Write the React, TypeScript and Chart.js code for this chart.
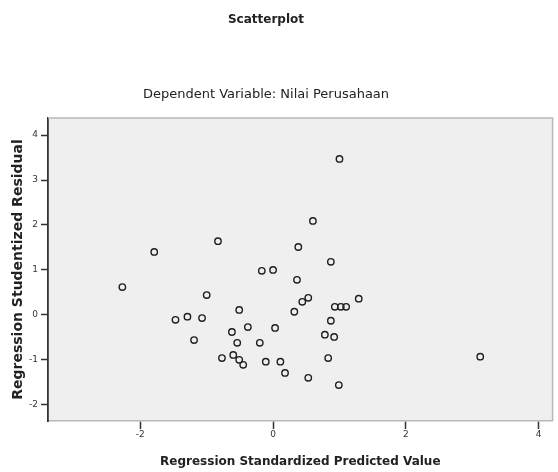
import { useEffect, useRef } from "react";
import { Chart, registerables } from "chart.js";

Chart.register(...registerables);

const chartTitle = "Scatterplot";
const chartSubtitle = "Dependent Variable: Nilai Perusahaan";
const xAxisTitle = "Regression Standardized Predicted Value";
const yAxisTitle = "Regression Studentized Residual";

const xTicks = [-2, 0, 2, 4];
const yTicks = [-2, -1, 0, 1, 2, 3, 4];

const predicted = [
  -2.27, -1.79, -0.83, 1.0, 0.6, 0.38, 0.87, -0.17, 0.0, 0.36,
  -1.0, -1.47, -1.29, -1.07, -0.51, -1.19, -0.38, 0.03, -0.62, -0.54,
  -0.2, -0.77, -0.6, -0.51, -0.45, -0.11, 0.11, 0.18, 0.32, 0.44,
  0.53, 0.93, 1.02, 1.1, 1.29, 0.87, 0.78, 0.92, 0.83, 0.53,
  0.99, 3.12,
];
const residual = [
  0.62, 1.4, 1.64, 3.47, 2.09, 1.51, 1.18, 0.98, 1.0, 0.78,
  0.44, -0.11, -0.04, -0.07, 0.11, -0.56, -0.27, -0.29, -0.38, -0.62,
  -0.62, -0.96, -0.89, -1.0, -1.11, -1.04, -1.04, -1.29, 0.07, 0.29,
  0.38, 0.18, 0.18, 0.18, 0.36, -0.13, -0.44, -0.49, -0.96, -1.4,
  -1.56, -0.93,
];

const FONT = "'DejaVu Sans', Verdana, sans-serif";

const framePlugin = {
  id: "frame",
  beforeDraw(chart: any) {
    const { ctx, chartArea } = chart;
    ctx.save();
    ctx.fillStyle = "#ffffff";
    ctx.fillRect(0, 0, chart.width, chart.height);
    ctx.fillStyle = "#efefef";
    ctx.fillRect(chartArea.left, chartArea.top, chartArea.right - chartArea.left, chartArea.bottom - chartArea.top);
    ctx.restore();
  },
  afterDraw(chart: any) {
    const { ctx, chartArea } = chart;
    ctx.save();
    ctx.strokeStyle = "#b8b8b8";
    ctx.lineWidth = 1.5;
    ctx.beginPath();
    ctx.moveTo(chartArea.left, chartArea.top);
    ctx.lineTo(chartArea.right, chartArea.top);
    ctx.lineTo(chartArea.right, chartArea.bottom);
    ctx.stroke();
    ctx.fillStyle = "#222";
    ctx.textAlign = "center";
    ctx.textBaseline = "middle";
    ctx.font = `bold 12px ${FONT}`;
    ctx.fillText(chartTitle, 266, 20);
    ctx.font = `13px ${FONT}`;
    ctx.fillText(chartSubtitle, 266, 95);
    ctx.restore();
  },
};

export default function App() {
  const ref = useRef<HTMLCanvasElement | null>(null);

  useEffect(() => {
    if (!ref.current) return;
    const points = predicted.map((x, i) => ({ x, y: residual[i] }));
    const chart = new Chart(ref.current, {
      type: "scatter",
      data: {
        datasets: [
          {
            data: points,
            pointStyle: "circle",
            pointRadius: 3.2,
            pointBorderWidth: 1.4,
            borderColor: "#1e1e1e",
            backgroundColor: "rgba(0,0,0,0)",
          },
        ],
      },
      options: {
        animation: false,
        responsive: false,
        maintainAspectRatio: false,
        layout: { padding: { top: 118, right: 4, left: 0, bottom: 0 } },
        plugins: {
          legend: { display: false },
          tooltip: { enabled: false },
        },
        scales: {
          x: {
            type: "linear",
            min: -3.39,
            max: 4.21,
            afterFit: (s: any) => {
              s.height = 51;
            },
            afterBuildTicks: (s: any) => {
              s.ticks = xTicks.map((v) => ({ value: v }));
            },
            grid: {
              drawOnChartArea: false,
              drawTicks: true,
              tickLength: 8,
              tickColor: "#333",
              tickWidth: 1.5,
            },
            border: { display: true, color: "#b8b8b8", width: 1.5 },
            ticks: {
              color: "#333",
              padding: 0,
              font: { family: FONT, size: 9 },
              maxRotation: 0,
            },
            title: {
              display: true,
              text: xAxisTitle,
              color: "#222",
              font: { family: FONT, size: 12, weight: "bold" },
              padding: { top: 0, bottom: 3 },
            },
          },
          y: {
            type: "linear",
            min: -2.36,
            max: 4.38,
            afterFit: (s: any) => {
              s.width = 48;
            },
            afterBuildTicks: (s: any) => {
              s.ticks = yTicks.map((v) => ({ value: v }));
            },
            grid: {
              drawOnChartArea: false,
              drawTicks: true,
              tickLength: 7,
              tickColor: "#333",
              tickWidth: 1.5,
            },
            border: { display: true, color: "#333", width: 1.8 },
            ticks: {
              color: "#333",
              padding: 3,
              font: { family: FONT, size: 9 },
            },
            title: {
              display: true,
              text: yAxisTitle,
              color: "#222",
              font: { family: FONT, size: 14, weight: "bold" },
              padding: { top: 10, bottom: 0 },
            },
          },
        },
      },
      plugins: [framePlugin],
    } as any);
    return () => chart.destroy();
  }, []);

  return (
    <div style={{ position: "fixed", left: 0, top: 0, width: 558, height: 472, background: "#fff" }}>
      <canvas ref={ref} width={558} height={472} style={{ display: "block", width: 558, height: 472 }} />
    </div>
  );
}
